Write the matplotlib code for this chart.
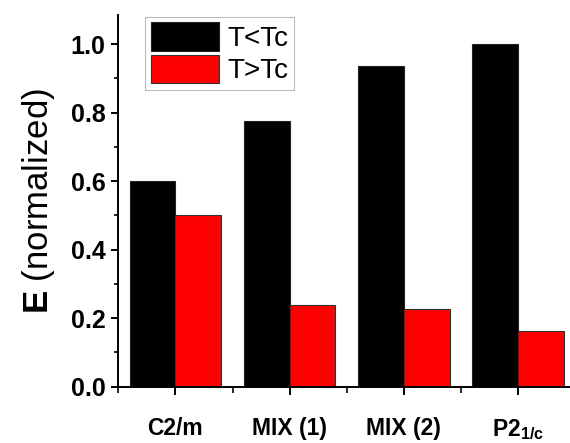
import matplotlib
matplotlib.use("Agg")
import matplotlib.pyplot as plt
import numpy as np
from matplotlib.ticker import MultipleLocator

plt.rcParams['font.family'] = ['Liberation Sans', 'DejaVu Sans']
plt.rcParams['mathtext.fontset'] = 'custom'
plt.rcParams['mathtext.rm'] = 'Liberation Sans'
plt.rcParams['mathtext.bf'] = 'Liberation Sans:bold'

# phases and normalized E below / above Tc
phases = ["C2/m", "MIX (1)", "MIX (2)", r"$\mathbf{P2_{1/c}}$"]
e_below = [0.60, 0.775, 0.937, 1.00]
e_above = [0.50, 0.238, 0.226, 0.162]
series_names = ["T<Tc", "T>Tc"]

x = np.arange(len(phases))
w = 0.4

fig = plt.figure(figsize=(5.7, 4.43), dpi=100)
ax = fig.add_axes([0.207, 0.127, 0.793, 0.839])

ax.bar(x - w / 2, e_below, w, color="black", edgecolor="#222222", linewidth=0.8,
       label=series_names[0])
ax.bar(x + w / 2, e_above, w, color="#ff0000", edgecolor="#333333", linewidth=0.8,
       label=series_names[1])

ax.set_xlim(-0.503, 3.455)
ax.set_ylim(0, 1.085)

ax.spines['top'].set_visible(False)
ax.spines['right'].set_visible(False)
for s in ('left', 'bottom'):
    ax.spines[s].set_linewidth(1.4)

ax.set_xticks(x)
ax.set_xticklabels(phases, fontsize=16.5, fontweight='bold')
ax.xaxis.set_minor_locator(MultipleLocator(1, offset=0.5))
ax.yaxis.set_major_locator(MultipleLocator(0.2))
ax.yaxis.set_minor_locator(MultipleLocator(0.1))
ax.yaxis.set_major_formatter(matplotlib.ticker.FormatStrFormatter('%.1f'))
for lab in ax.get_yticklabels():
    lab.set_fontweight('bold')
ax.tick_params(axis='y', which='major', direction='out', length=5, width=1.4,
               labelsize=18, pad=4)
ax.tick_params(axis='y', which='minor', direction='out', length=3, width=1.2)
ax.tick_params(axis='x', which='major', direction='out', length=6, width=1.4, pad=16)
ax.tick_params(axis='x', which='minor', direction='out', length=4, width=1.2)

ax.set_ylabel(r"$\mathbf{E}$ (normalized)", fontsize=25, labelpad=10)

leg = ax.legend(loc='upper left', bbox_to_anchor=(0.06, 0.995), borderaxespad=0,
                fontsize=20, frameon=True, fancybox=False, handlelength=2.45,
                handleheight=1.2, labelspacing=0.1, handletextpad=0.3,
                borderpad=0.2)
leg.get_frame().set_edgecolor('#aaaaaa')
leg.get_frame().set_linewidth(0.8)

fig.savefig("out.png", dpi=100)
